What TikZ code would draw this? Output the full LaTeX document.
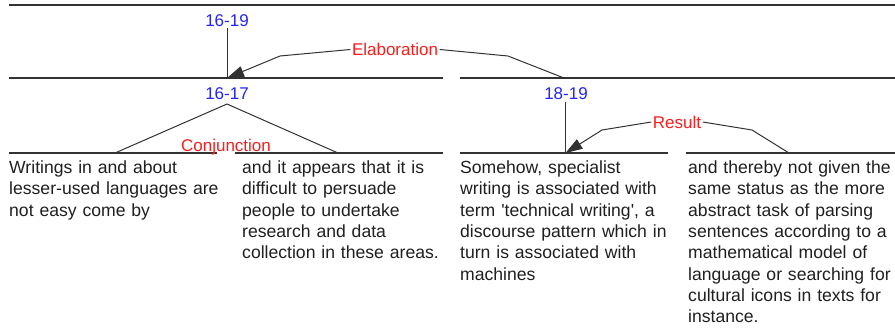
\documentclass[tikz,border=0pt]{standalone}
\usepackage{fontspec}
\setmainfont{Liberation Sans}[Ligatures=TeXOff]
\usetikzlibrary{arrows.meta}
\definecolor{numblue}{RGB}{35,35,250}
\definecolor{relred}{RGB}{250,30,30}
\definecolor{linegray}{RGB}{50,50,50}
\begin{document}
\begin{tikzpicture}[x=1pt,y=-1pt,
  span/.style={line width=1.1pt, draw=linegray},
  rel/.style={line width=1pt, draw=linegray},
  arr/.style={rel, -{Triangle[length=17pt,width=11pt]}},
  num/.style={text=numblue, font=\fontsize{17}{20}\selectfont, inner sep=1.5pt},
  rlab/.style={text=relred, font=\fontsize{17}{20}\selectfont, inner sep=1.5pt},
  leaf/.style={anchor=base west, align=left, text width=240pt, inner sep=0pt,
    font=\fontsize{17.6}{21.3}\selectfont, text=black!88}]
\useasboundingbox (0,0) rectangle (895,330);

% span lines
\draw[span] (9,5) -- (895,5);
\draw[span] (9,78) -- (443,78);
\draw[span] (460,78) -- (895,78);
\draw[span] (9,153) -- (217,153);
\draw[span] (235,153) -- (443,153);
\draw[span] (460,153) -- (668,153);
\draw[span] (686,153) -- (895,153);

% labels
\node[num] (n1619) at (227,20.5) {16-19};
\node[num] (n1617) at (227,94) {16-17};
\node[num] (n1819) at (566,94) {18-19};
\node[rlab] (elab) at (395,49.5) {Elaboration};
\node[rlab] (conj) at (226,147) {Conjunction};
\node[rlab] (res) at (677,122) {Result};

% coordinates
\coordinate (t1617) at (227,78);
\coordinate (apex) at (227,104);
\coordinate (c1) at (115,153);
\coordinate (c2) at (338,153);
\coordinate (e0) at (564,78);
\coordinate (e1) at (508,56);
\coordinate (e2) at (280,56);
\coordinate (t1819) at (565.5,153);
\coordinate (r0) at (789,153);
\coordinate (r1) at (752,130);
\coordinate (r2) at (602,130);

% connectors
\draw[rel] (n1619.south) -- (t1617);
\draw[rel] (c1) -- (apex) -- (c2);
\draw[rel] (e0) -- (e1) -- (elab.east);
\draw[arr] (elab.west) -- (e2) -- (t1617);
\draw[rel] (n1819.south -| t1819) -- (t1819);
\draw[rel] (r0) -- (r1) -- (res.east);
\draw[arr] (res.west) -- (r2) -- (t1819);

% leaf texts
\node[leaf] (l1) at (9,173.5) {Writings in and about\\lesser-used languages are\\not easy come by};
\node[leaf] (l2) at (242,173.5) {and it appears that it is\\difficult to persuade\\people to undertake\\research and data\\collection in these areas.};
\node[leaf] (l3) at (460,173.5) {Somehow, specialist\\writing is associated with\\term 'technical writing', a\\discourse pattern which in\\turn is associated with\\machines};
\node[leaf] (l4) at (688,173.5) {and thereby not given the\\same status as the more\\abstract task of parsing\\sentences according to a\\mathematical model of\\language or searching for\\cultural icons in texts for\\instance.};
\end{tikzpicture}
\end{document}
